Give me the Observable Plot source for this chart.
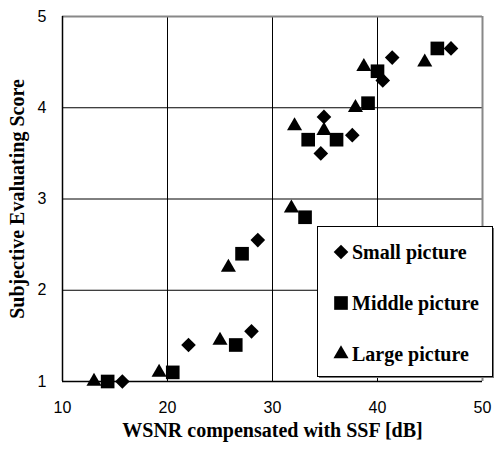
<!DOCTYPE html>
<html>
<head>
<meta charset="utf-8">
<script src="https://cdn.jsdelivr.net/npm/d3@7"></script>
<script src="https://cdn.jsdelivr.net/npm/@observablehq/plot@0.6"></script>
<style>
  html, body { margin: 0; padding: 0; background: #fff; }
  #chart { width: 495px; height: 453px; }
</style>
</head>
<body>
<div id="chart"></div>
<script>
// Series names
const seriesNames = ["Small picture", "Middle picture", "Large picture"];

// WSNR compensated with SSF [dB] and subjective score, per picture size
const smallX  = [15.7, 22.0, 28.0, 28.6, 34.9, 34.6, 37.6, 40.5, 41.4, 47.0];
const smallY  = [1.0, 1.4, 1.55, 2.55, 3.9, 3.5, 3.7, 4.3, 4.55, 4.65];
const middleX = [14.3, 20.5, 26.5, 27.1, 33.1, 33.4, 36.1, 39.1, 40.0, 45.7];
const middleY = [1.0, 1.1, 1.4, 2.4, 2.8, 3.65, 3.65, 4.05, 4.4, 4.65];
const largeX  = [13.0, 19.2, 25.0, 25.8, 31.8, 32.1, 34.9, 37.9, 38.7, 44.5];
const largeY  = [1.0, 1.1, 1.45, 2.25, 2.9, 3.8, 3.75, 4.0, 4.45, 4.5];

// Axis ticks
const xTicks = [10, 20, 30, 40, 50];
const yTicks = [1, 2, 3, 4, 5];

const xLabel = "WSNR compensated with SSF [dB]";
const yLabel = "Subjective Evaluating Score";

const toRows = (xs, ys, name) => xs.map((x, i) => ({x, y: ys[i], series: name}));
const small = toRows(smallX, smallY, seriesNames[0]);
const middle = toRows(middleX, middleY, seriesNames[1]);
const large = toRows(largeX, largeY, seriesNames[2]);

const serif = "'Liberation Serif', 'Times New Roman', serif";
const sans = "'Liberation Sans', Arial, sans-serif";

const svg = Plot.plot({
  width: 495,
  height: 453,
  marginLeft: 62,
  marginRight: 13,
  marginTop: 16,
  marginBottom: 72,
  style: {background: "#fff", color: "#000"},
  x: {domain: [10, 50]},
  y: {domain: [1, 5]},
  marks: [
    // grid lines
    Plot.ruleX([20, 30, 40], {stroke: "#000", strokeWidth: 1}),
    Plot.ruleY([2, 3, 4], {stroke: "#000", strokeWidth: 1}),
    // plot-area border (top/right) and axis lines (left/bottom)
    Plot.ruleY([5], {stroke: "#888", strokeWidth: 2}),
    Plot.ruleX([50], {stroke: "#888", strokeWidth: 2}),
    Plot.ruleX([10], {stroke: "#000", strokeWidth: 1.5}),
    Plot.ruleY([1], {stroke: "#000", strokeWidth: 1.5}),
    Plot.axisX({ticks: xTicks, tickFormat: d3.format("d"), tickSize: 0, tickPadding: 20,
      fontSize: 16, fontFamily: sans, label: null}),
    Plot.axisY({ticks: yTicks, tickFormat: d3.format("d"), tickSize: 0, tickPadding: 16,
      fontSize: 16, fontFamily: sans, label: null}),
    Plot.text([xLabel], {text: d => d, frameAnchor: "bottom", dy: 49, lineAnchor: "middle",
      textAnchor: "middle", fontSize: 20, fontWeight: "bold", fontFamily: serif, fill: "#000"}),
    Plot.text([yLabel], {text: d => d, frameAnchor: "left", dx: -45, rotate: -90, lineAnchor: "middle",
      textAnchor: "middle", fontSize: 20, fontWeight: "bold", fontFamily: serif, fill: "#000"}),
    // data points
    Plot.dot(small, {x: "x", y: "y", symbol: "diamond2", r: 6.6, fill: "#000", stroke: "none"}),
    Plot.dot(middle, {x: "x", y: "y", symbol: "square", r: 7.7, fill: "#000", stroke: "none"}),
    Plot.dot(large, {x: "x", y: "y", symbol: "triangle", r: 5.6, fill: "#000", stroke: "none"})
  ]
});

// Legend box drawn into the same SVG
const root = d3.select(svg);
const lg = root.append("g").attr("class", "legend").attr("text-anchor", "start");
lg.append("rect").attr("x", 319).attr("y", 228).attr("width", 175).attr("height", 150).attr("fill", "#777");
lg.append("rect").attr("x", 317.5).attr("y", 226.5).attr("width", 175).attr("height", 150)
  .attr("fill", "#fff").attr("stroke", "#000").attr("stroke-width", 1);
const legendSymbols = [
  {name: seriesNames[0], type: d3.symbolDiamond2, r: 6.6, cy: 252},
  {name: seriesNames[1], type: d3.symbolSquare, r: 7.7, cy: 303},
  {name: seriesNames[2], type: d3.symbolTriangle, r: 5.6, cy: 354}
];
for (const s of legendSymbols) {
  lg.append("path")
    .attr("d", d3.symbol(s.type, s.r * s.r * Math.PI)())
    .attr("transform", `translate(341,${s.cy})`)
    .attr("fill", "#000");
  lg.append("text")
    .attr("x", 352).attr("y", s.cy).attr("dy", "0.35em")
    .attr("text-anchor", "start")
    .attr("font-family", serif).attr("font-size", 20).attr("font-weight", "bold")
    .attr("fill", "#000")
    .text(s.name);
}

document.getElementById("chart").append(svg);
</script>
</body>
</html>
